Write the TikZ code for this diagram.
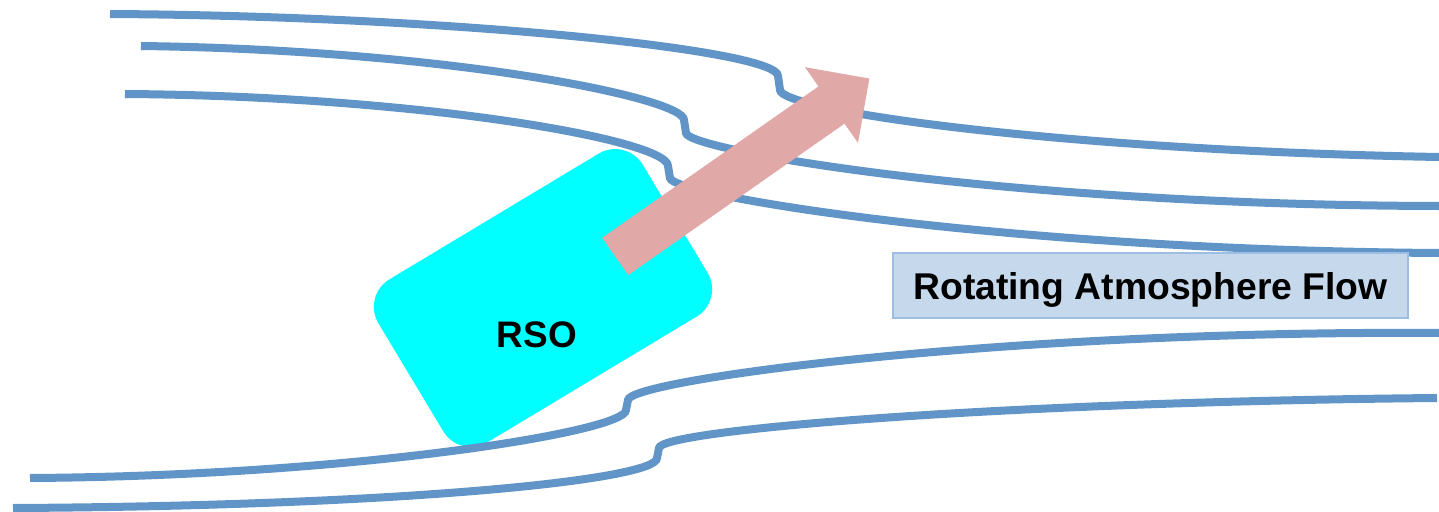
\documentclass[tikz,border=0pt]{standalone}
\usepackage{fontspec}
\setmainfont{Liberation Sans}
\usetikzlibrary{shapes.arrows}

\definecolor{flowblue}{RGB}{97,149,199}
\definecolor{rsocyan}{RGB}{0,255,255}
\definecolor{vecpink}{RGB}{224,168,166}
\definecolor{labelfill}{RGB}{198,217,236}
\definecolor{labeledge}{RGB}{157,190,225}

\begin{document}
\begin{tikzpicture}[
    x=0.01cm, y=-0.01cm,
    streamline/.style={draw=flowblue, line width=0.08cm},
    rsobox/.style={fill=rsocyan, rounded corners=0.32cm, minimum width=3.08cm,
                   minimum height=1.9cm, inner sep=0pt, rotate=31},
    rsolabel/.style={font=\fontsize{10.5}{12}\selectfont\bfseries, inner sep=0pt},
    velarrow/.style={single arrow, fill=vecpink, minimum height=3.1cm,
                     inner xsep=0pt, inner ysep=0.22cm,
                     single arrow head extend=0.235cm, single arrow tip angle=90,
                     single arrow head indent=0pt, rotate=35},
    flowlabel/.style={fill=labelfill, draw=labeledge, line width=0.6pt, minimum width=5.15cm,
                      minimum height=0.65cm, inner sep=0pt, text depth=0pt,
                      font=\fontsize{10.6}{12}\selectfont\bfseries}
]
\useasboundingbox (0,0) rectangle (1439,512);

% --- Object ---
\node[rsobox] (rso) at (543,298) {};

% --- Streamlines (upper) ---
\draw[streamline] (110,14) .. controls (450,16) and (778,50) .. (778,76)
    -- (780,90) .. controls (781,110) and (1050,150) .. (1439,157);
\draw[streamline] (141,46) .. controls (450,50) and (684,98) .. (684,120)
    -- (686,133) .. controls (687,150) and (1000,205) .. (1439,206);
\draw[streamline] (125,94) .. controls (420,96) and (668,140) .. (668,166)
    -- (670,178) .. controls (671,195) and (1000,250) .. (1439,253);

% --- Streamlines (lower) ---
\draw[streamline] (30,478) .. controls (350,476) and (626,432) .. (626,410)
    -- (628,400) .. controls (629,380) and (1000,330) .. (1439,333);
\draw[streamline] (13,508) .. controls (400,506) and (657,480) .. (657,458)
    -- (659,448) .. controls (660,430) and (1000,402) .. (1437,398);

\node[rsolabel] (rsotext) at (537,335) {RSO};

% --- Velocity ---
\node[velarrow] (vel) at (733,174) {};

% --- Label ---
\node[flowlabel] (flow) at (1150.5,285.5) {Rotating Atmosphere Flow};

\end{tikzpicture}
\end{document}
